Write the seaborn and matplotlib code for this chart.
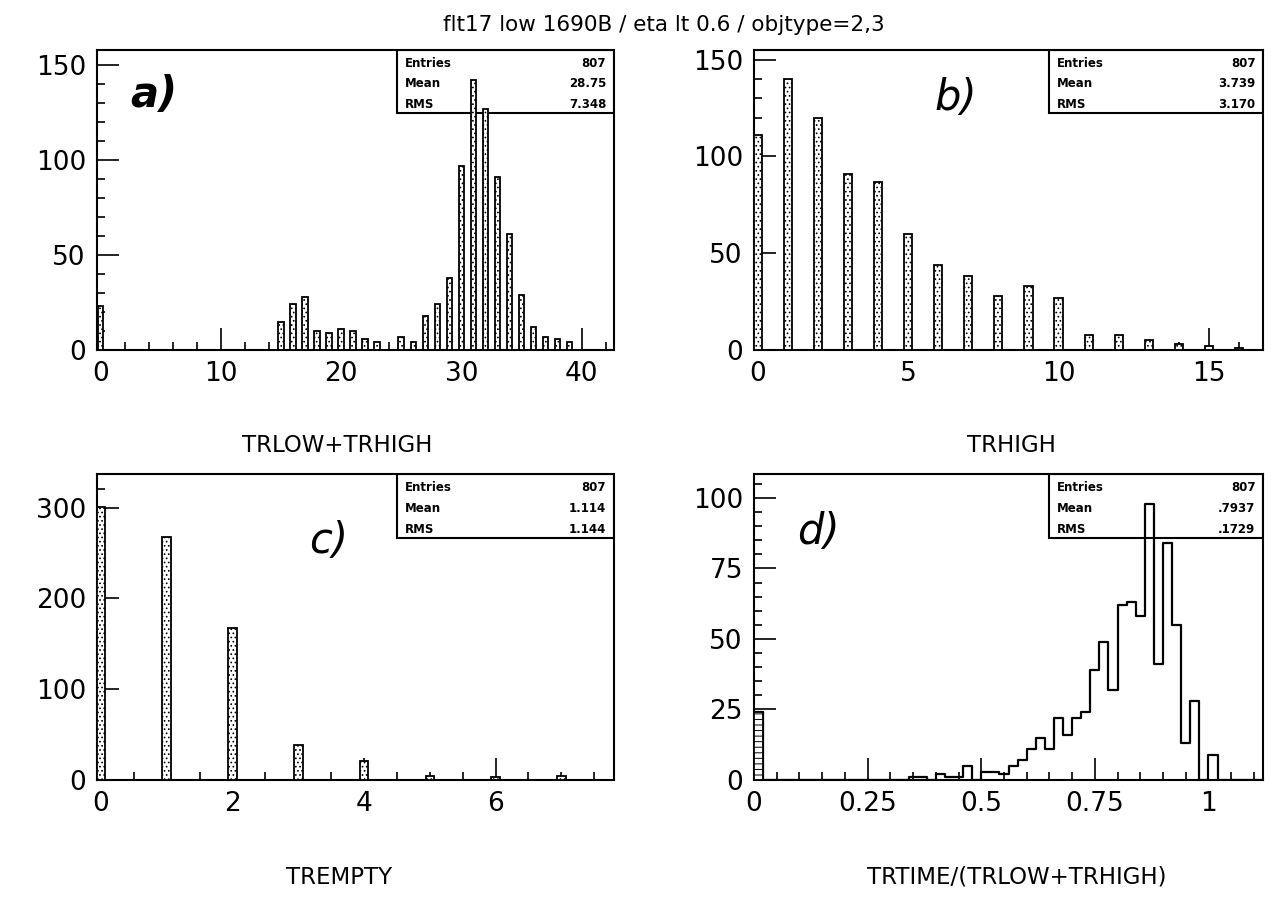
import numpy as np
import matplotlib
matplotlib.use("Agg")
import matplotlib.pyplot as plt
from matplotlib.ticker import MultipleLocator, FixedLocator
from matplotlib.patches import Rectangle
import seaborn as sns

sns.set_theme(style="white")
plt.rcParams['font.family'] = ['DejaVu Sans']
plt.rcParams['hatch.linewidth'] = 0.7
plt.rcParams['text.color'] = 'black'
plt.rcParams['axes.labelcolor'] = 'black'
plt.rcParams['xtick.color'] = 'black'
plt.rcParams['ytick.color'] = 'black'

TITLE = "flt17 low 1690B / eta lt 0.6 / objtype=2,3"

# a) TRLOW+TRHIGH
a_values = [0, 15, 16, 17, 18, 19, 20, 21, 22, 23, 25, 26, 27, 28, 29,
            30, 31, 32, 33, 34, 35, 36, 37, 38, 39]
a_counts = [23, 15, 24, 28, 10, 9, 11, 10, 6, 4, 7, 4, 18, 24, 38,
            97, 142, 127, 91, 61, 29, 12, 7, 6, 4]
a_stats = ["807", "28.75", "7.348"]

# b) TRHIGH
b_values = [0, 1, 2, 3, 4, 5, 6, 7, 8, 9, 10, 11, 12, 13, 14, 15, 16]
b_counts = [111, 140, 120, 91, 87, 60, 44, 38, 28, 33, 27, 8, 8, 5, 3, 2, 1]
b_stats = ["807", "3.739", "3.170"]

# c) TREMPTY
c_values = [0, 1, 2, 3, 4, 5, 6, 7]
c_counts = [301, 268, 167, 39, 21, 4, 3, 4]
c_stats = ["807", "1.114", "1.144"]

# d) TRTIME/(TRLOW+TRHIGH), bins of width 0.02 starting at 0
d_bin_index = [0, 17, 18, 20, 21, 22, 23, 25, 26, 27, 28, 29, 30, 31, 32,
               33, 34, 35, 36, 37, 38, 39, 40, 41, 42, 43, 44, 45, 46, 47,
               48, 50]
d_counts = [24, 1, 1, 2, 1, 1, 5, 3, 3, 2, 5, 7, 11, 15, 11,
            22, 16, 22, 24, 39, 49, 32, 62, 63, 58, 98, 41, 84, 55, 13,
            28, 9]
d_stats = ["807", ".7937", ".1729"]
d_binwidth = 0.02

stat_names = ["Entries", "Mean", "RMS"]

W, H = 1271, 910
fig = plt.figure(figsize=(W / 100, H / 100), dpi=100)


def box(l, r, t, b):
    return [l / W, 1 - b / H, (r - l) / W, (b - t) / H]


ax_a = fig.add_axes(box(97, 614, 50, 350))
ax_b = fig.add_axes(box(754, 1263, 50, 350))
ax_c = fig.add_axes(box(97, 614, 474, 780))
ax_d = fig.add_axes(box(754, 1263, 474, 780))

bar_style = dict(color="white", edgecolor="black", linewidth=1.3,
                 hatch="....", alpha=1, zorder=3)

sns.histplot(x=a_values, weights=a_counts, discrete=True, shrink=0.45,
             ax=ax_a, **bar_style)
sns.histplot(x=b_values, weights=b_counts, discrete=True, shrink=0.27,
             ax=ax_b, **bar_style)
sns.histplot(x=c_values, weights=c_counts, discrete=True, shrink=0.13,
             ax=ax_c, **bar_style)

d_centers = np.array([d_binwidth * (i + 0.5) for i in d_bin_index])
d_weights = np.array(d_counts, dtype=float)
sns.histplot(x=d_centers, weights=d_weights,
             binwidth=d_binwidth, binrange=(0, 56 * d_binwidth),
             element="step", fill=False, color="black", linewidth=1.6,
             ax=ax_d, zorder=3)
# first bin drawn hatched
sns.histplot(x=d_centers[:1], weights=d_weights[:1],
             binwidth=d_binwidth, binrange=(0, d_binwidth),
             color="white", edgecolor="black", linewidth=1.3, hatch="---",
             alpha=1, ax=ax_d, zorder=4)

panels = [
    (ax_a, (-0.3, 42.7), (0, 158), 10, 2, 50, 10, a_stats, "a)", (0.065, 0.85),
     "bold", "TRLOW+TRHIGH", 0.465, None),
    (ax_b, (-0.13, 16.8), (0, 155), 5, 1, 50, 10, b_stats, "b)", (0.355, 0.84),
     "normal", "TRHIGH", 0.506, None),
    (ax_c, (-0.06, 7.8), (0, 337), 2, 0.5, 100, 20, c_stats, "c)", (0.41, 0.78),
     "normal", "TREMPTY", 0.469, None),
    (ax_d, (0, 1.12), (0, 108.5), 0.25, 0.05, 25, 5, d_stats, "d)", (0.085, 0.81),
     "normal", "TRTIME/(TRLOW+TRHIGH)", 0.516,
     ["0", "0.25", "0.5", "0.75", "1"]),
]

for (ax, xl, yl, xmaj, xmin, ymaj, ymin, stats, tag, tagpos, tagweight,
     xlabel, xlabx, xticklabels) in panels:
    ax.set_xlim(*xl)
    ax.set_ylim(*yl)
    ax.xaxis.set_major_locator(MultipleLocator(xmaj))
    ax.xaxis.set_minor_locator(MultipleLocator(xmin))
    ax.yaxis.set_major_locator(MultipleLocator(ymaj))
    ax.yaxis.set_minor_locator(MultipleLocator(ymin))
    if xticklabels is not None:
        ax.xaxis.set_major_locator(FixedLocator([0, 0.25, 0.5, 0.75, 1.0]))
        ax.set_xticklabels(xticklabels)
    ax.tick_params(which="both", direction="in", bottom=True, left=True,
                   top=False, right=False, colors="black", width=1.2)
    ax.tick_params(which="major", length=16, labelsize=19, pad=8)
    ax.tick_params(which="minor", length=6)
    for s in ax.spines.values():
        s.set_visible(True)
        s.set_color("black")
        s.set_linewidth(1.5)
    ax.set_ylabel("")
    ax.set_xlabel(xlabel, fontsize=16.5, color="black")
    ax.xaxis.set_label_coords(xlabx, -0.28)
    ax.set_facecolor("white")

    # statistics box in the upper right corner
    ax.add_patch(Rectangle((0.58, 0.79), 0.42, 0.21, transform=ax.transAxes,
                           facecolor="white", edgecolor="black",
                           linewidth=1.5, zorder=1))
    for k, (name, val) in enumerate(zip(stat_names, stats)):
        y = 0.955 - k * 0.068
        ax.text(0.595, y, name, transform=ax.transAxes, fontsize=8.5,
                fontweight="bold", va="center", ha="left", zorder=2)
        ax.text(0.985, y, val, transform=ax.transAxes, fontsize=8.5,
                fontweight="bold", va="center", ha="right", zorder=2)

    ax.text(tagpos[0], tagpos[1], tag, transform=ax.transAxes, fontsize=30,
            style="italic", fontweight=tagweight, va="center", ha="left",
            zorder=4)

fig.text(664 / W, 1 - 25 / H, TITLE, fontsize=15.5, ha="center", va="center")

fig.savefig("out.png", dpi=100, facecolor="white")
